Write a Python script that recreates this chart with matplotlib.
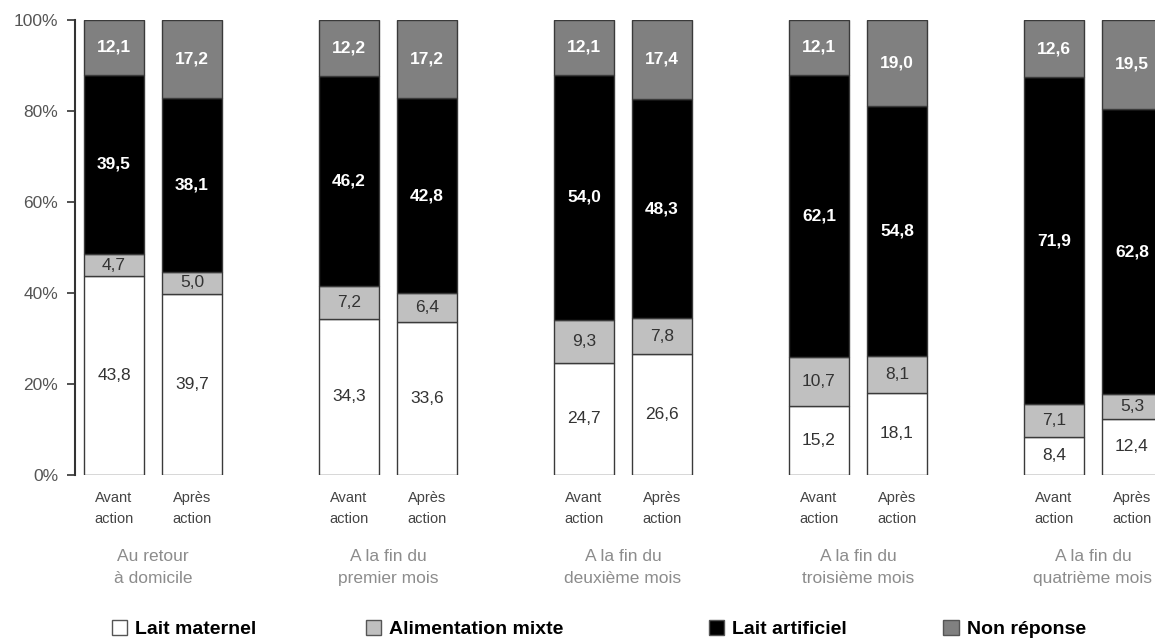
import matplotlib.pyplot as plt
import numpy as np
from matplotlib.patches import Patch

plt.rcParams['font.family'] = ['Liberation Sans', 'DejaVu Sans']

periods = ['Au retour\nà domicile', 'A la fin du\npremier mois', 'A la fin du\ndeuxième mois',
           'A la fin du\ntroisième mois', 'A la fin du\nquatrième mois']
moments = ['Avant\naction', 'Après\naction']

# each list: [avant, après] for every period, in the order above
lait_maternel = [43.8, 39.7, 34.3, 33.6, 24.7, 26.6, 15.2, 18.1, 8.4, 12.4]
alim_mixte    = [4.7, 5.0, 7.2, 6.4, 9.3, 7.8, 10.7, 8.1, 7.1, 5.3]
lait_artif    = [39.5, 38.1, 46.2, 42.8, 54.0, 48.3, 62.1, 54.8, 71.9, 62.8]
non_reponse   = [12.1, 17.2, 12.2, 17.2, 12.1, 17.4, 12.1, 19.0, 12.6, 19.5]

series = [
    ('Lait maternel', lait_maternel, 'white', '#333333', 'normal'),
    ('Alimentation mixte', alim_mixte, '#c0c0c0', '#333333', 'normal'),
    ('Lait artificiel', lait_artif, 'black', 'white', 'bold'),
    ('Non réponse', non_reponse, '#808080', 'white', 'bold'),
]

fig = plt.figure(figsize=(11.55, 6.43), dpi=100)
ax = fig.add_axes([75/1155, 168/643, 1080/1155, 455/643])

g = np.arange(len(periods))
xpos = np.column_stack([g - 0.166, g + 0.166]).ravel()
width = 0.255

bottom = np.zeros(len(xpos))
for name, vals, col, tcol, tw in series:
    vals = np.array(vals)
    ax.bar(xpos, vals, width, bottom=bottom, color=col, edgecolor='#3a3a3a', linewidth=1)
    for x, b, v in zip(xpos, bottom, vals):
        ax.text(x, b + v / 2, f'{v:.1f}'.replace('.', ','), ha='center', va='center',
                color=tcol, fontsize=12.5, fontweight=tw)
    bottom += vals

ax.set_xlim(-0.332, 4.264)
ax.set_ylim(0, 100)
ax.set_yticks(range(0, 101, 20))
ax.set_yticklabels([f'{t}%' for t in range(0, 101, 20)])
ax.tick_params(axis='y', length=6, width=1.2, color='#333333', labelcolor='#555555',
               labelsize=12.5, pad=6)
ax.set_xticks([])
for s in ['top', 'right', 'bottom']:
    ax.spines[s].set_visible(False)
ax.spines['left'].set_linewidth(1.5)
ax.spines['left'].set_color('#333333')

tr = ax.get_xaxis_transform()
for i, x in enumerate(xpos):
    ax.text(x, -0.074, moments[i % 2], transform=tr, ha='center', va='center',
            fontsize=10.5, color='#444444', linespacing=1.65)
for i, p in enumerate(periods):
    ax.text(g[i], -0.203, p, transform=tr, ha='center', va='center',
            fontsize=12.5, color='#8c8c8c', linespacing=1.55)

# legend entries spread along the bottom
leg_x = [0.09, 0.31, 0.607, 0.81]
for (name, vals, col, tcol, tw), lx in zip(series, leg_x):
    h = Patch(facecolor=col, edgecolor='#555555', linewidth=1)
    fig.legend(handles=[h], labels=[name], loc='center left', bbox_to_anchor=(lx, 0.022),
               frameon=False, handlelength=0.8, handleheight=0.8, handletextpad=0.4,
               borderaxespad=0, prop={'size': 14, 'weight': 'bold'})

fig.savefig('out.png', dpi=100)
